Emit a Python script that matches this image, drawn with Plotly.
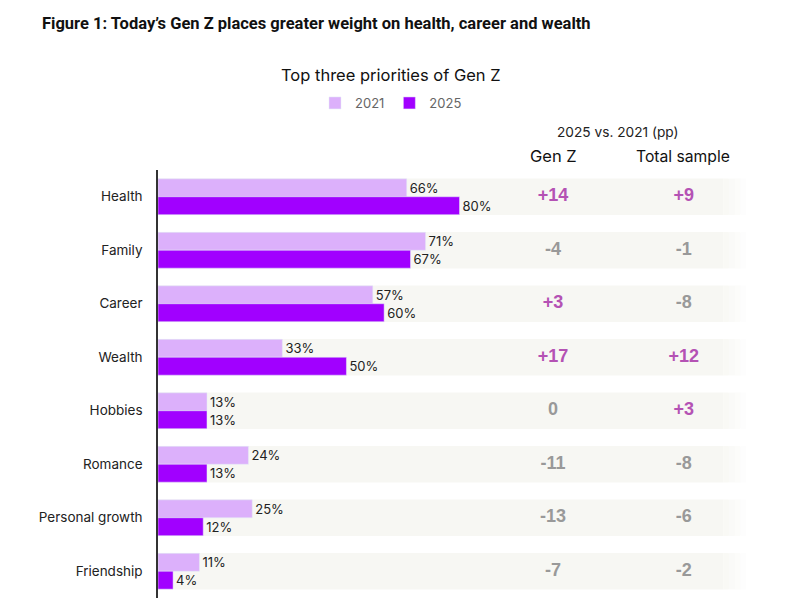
import plotly.graph_objects as go

# =========================================================================
# Data
# =========================================================================
categories = ["Health", "Family", "Career", "Wealth", "Hobbies",
              "Romance", "Personal growth", "Friendship"]
share_2021 = [66, 71, 57, 33, 13, 24, 25, 11]
share_2025 = [80, 67, 60, 50, 13, 13, 12, 4]
change_genz = [14, -4, 3, 17, 0, -11, -13, -7]
change_total = [9, -1, -8, 12, 3, -8, -6, -2]

LIGHT = "#dcb0fb"
PURPLE = "#a100ff"
POS = "#b452b4"
NEG = "#999999"
BAND = "#f7f7f3"
FONT = "Inter"

GENZ_X = 104.8
TOTAL_X = 139.5

# plot area in page pixels (page has an 8px body margin)
PX_L, PX_R, PX_T, PX_B = 158, 761, 170, 598


def fmt(v):
    return f"+{v}" if v > 0 else str(v)


def colour(v):
    return POS if v > 0 else NEG


fig = go.Figure()

# 2021 / 2025 bars
fig.add_trace(go.Bar(
    y=categories, x=share_2021, orientation="h", name="2021",
    marker_color=LIGHT, text=[f"{v}%" for v in share_2021],
    textposition="outside", cliponaxis=False,
    textfont=dict(size=13, color="#222222", family=FONT),
    hoverinfo="skip",
))
fig.add_trace(go.Bar(
    y=categories, x=share_2025, orientation="h", name="2025",
    marker_color=PURPLE, text=[f"{v}%" for v in share_2025],
    textposition="outside", cliponaxis=False,
    textfont=dict(size=13, color="#222222", family=FONT),
    hoverinfo="skip",
))

# change columns
fig.add_trace(go.Scatter(
    y=categories, x=[GENZ_X] * len(categories), mode="text",
    text=[fmt(v) for v in change_genz], showlegend=False,
    textfont=dict(size=18, color=[colour(v) for v in change_genz],
                  family="Liberation Sans", weight="bold"),
    hoverinfo="skip",
))
fig.add_trace(go.Scatter(
    y=categories, x=[TOTAL_X] * len(categories), mode="text",
    text=[fmt(v) for v in change_total], showlegend=False,
    textfont=dict(size=18, color=[colour(v) for v in change_total],
                  family="Liberation Sans", weight="bold"),
    hoverinfo="skip",
))

# background bands with a soft fade on the right
for i in range(len(categories)):
    fig.add_shape(type="rect", xref="x", yref="y", layer="below",
                  x0=0, x1=150, y0=i - 0.34, y1=i + 0.34,
                  fillcolor=BAND, line_width=0)
    for k, op in enumerate([0.8, 0.6, 0.4, 0.2]):
        fig.add_shape(type="rect", xref="x", yref="y", layer="below",
                      x0=150 + k * 1.5, x1=151.5 + k * 1.5,
                      y0=i - 0.34, y1=i + 0.34,
                      fillcolor=BAND, opacity=op, line_width=0)

# headers (positions in page pixels, converted to paper coords)
annotations = [
    dict(text="<b>Figure 1: Today’s Gen Z places greater weight on health, career and wealth</b>",
         x=40, y=24, xanchor="left", size=16.5, color="#111111", family="Roboto"),
    dict(text="Top three priorities of Gen Z", x=391, y=75,
         size=16.5, color="#111111"),
    dict(text="2025 vs. 2021 (pp)", x=618, y=132, size=13.7, color="#222222"),
    dict(text="Gen Z", x=553, y=156, size=16.5, color="#111111"),
    dict(text="Total sample", x=683, y=156, size=15.7, color="#111111"),
]
for a in annotations:
    fig.add_annotation(
        text=a["text"], xref="paper", yref="paper",
        x=(a["x"] - PX_L) / (PX_R - PX_L),
        y=(PX_B - a["y"]) / (PX_B - PX_T),
        xanchor=a.get("xanchor", "center"), yanchor="middle", showarrow=False,
        font=dict(family=a.get("family", FONT), size=a["size"], color=a["color"]),
    )

fig.update_layout(
    width=789, height=609,
    margin=dict(l=PX_L - 8, r=789 - (PX_R - 8), t=PX_T - 8, b=609 - (PX_B - 8)),
    plot_bgcolor="white", paper_bgcolor="white",
    barmode="group", bargap=0.33, bargroupgap=0,
    font=dict(family=FONT, color="#222222"),
    legend=dict(orientation="h", x=(391 - PX_L) / (PX_R - PX_L), xanchor="center",
                y=1 - (103 - 8) / 609, yanchor="middle", yref="container",
                font=dict(size=13, color="#666666"),
                itemwidth=30, traceorder="normal"),
    xaxis=dict(range=[0, 160], visible=False, fixedrange=True),
    yaxis=dict(autorange="reversed", showgrid=False, ticks="",
               showline=True, linecolor="#333333", linewidth=1.5,
               ticklabelstandoff=11,
               tickfont=dict(size=13.5, color="#222222", family=FONT)),
)

fig.write_html("out.html")
